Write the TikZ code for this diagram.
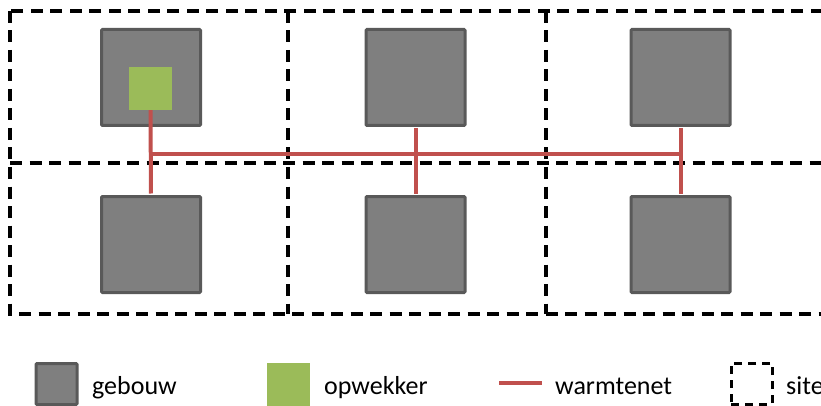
\documentclass[tikz,border=0pt]{standalone}
\usepackage{fontspec}
\setmainfont{Carlito}
\definecolor{gebouwgrijs}{HTML}{7F7F7F}
\definecolor{randgrijs}{HTML}{595959}
\definecolor{opwekgroen}{HTML}{9BBB59}
\definecolor{netrood}{HTML}{C0504D}
\begin{document}
\begin{tikzpicture}[x=1pt,y=-1pt,
    gebouw/.style={draw=randgrijs,fill=gebouwgrijs,line width=3pt,rounded corners=1pt,
      minimum width=99pt,minimum height=96pt,inner sep=0pt},
    opwekker/.style={fill=opwekgroen,minimum size=43pt,inner sep=0pt},
    warmtenet/.style={draw=netrood,line width=4pt},
    site/.style={draw=black,line width=3.5pt,dash pattern=on 12pt off 7.5pt},
    legendatekst/.style={anchor=base west,inner sep=0pt,font=\fontsize{26}{30}\selectfont}]
  \clip (0,0) rectangle (821,406);
  % sites
  \draw[site] (10,11) rectangle (825,314);
  \draw[site] (10,163) -- (825,163);
  \draw[site] (288,11) -- (288,314);
  \draw[site] (546,11) -- (546,314);
  % gebouwen
  \node[gebouw] (g1) at (151,77.5) {};
  \node[gebouw] (g2) at (415.5,77.5) {};
  \node[gebouw] (g3) at (680.5,77.5) {};
  \node[gebouw] (g4) at (151,244.5) {};
  \node[gebouw] (g5) at (415.5,244.5) {};
  \node[gebouw] (g6) at (680.5,244.5) {};
  \node[opwekker] (o1) at (150.5,88.5) {};
  % warmtenet
  \coordinate (netlijn) at (0,154);
  \draw[warmtenet,shorten >=1.5pt] (o1.south) -- (g4.north);
  \draw[warmtenet,shorten <=1.5pt,shorten >=1.5pt] (g2.south) -- (g5.north);
  \draw[warmtenet,shorten <=1.5pt,shorten >=1.5pt] (g3.south) -- (g6.north);
  \draw[warmtenet] ([xshift=-2pt]o1.south |- netlijn) -- ([xshift=2pt]g3.south |- netlijn);
  % legenda
  \node[gebouw,minimum width=41pt,minimum height=41pt] (lg) at (56.5,384) {};
  \node[legendatekst] (tg) at (92,394) {gebouw};
  \node[opwekker] (lo) at (288.5,384.5) {};
  \node[legendatekst] (to) at (324,394) {opwekker};
  \coordinate (lw1) at (499,383);
  \coordinate (lw2) at (542,383);
  \draw[warmtenet] (lw1) -- (lw2);
  \node[legendatekst] (tw) at (555,394) {warmtenet};
  \node[draw=black,line width=3pt,dash pattern=on 8pt off 6pt,minimum size=41pt,inner sep=0pt]
    (ls) at (751.5,383.5) {};
  \node[legendatekst] (ts) at (786,394) {site};
\end{tikzpicture}
\end{document}
